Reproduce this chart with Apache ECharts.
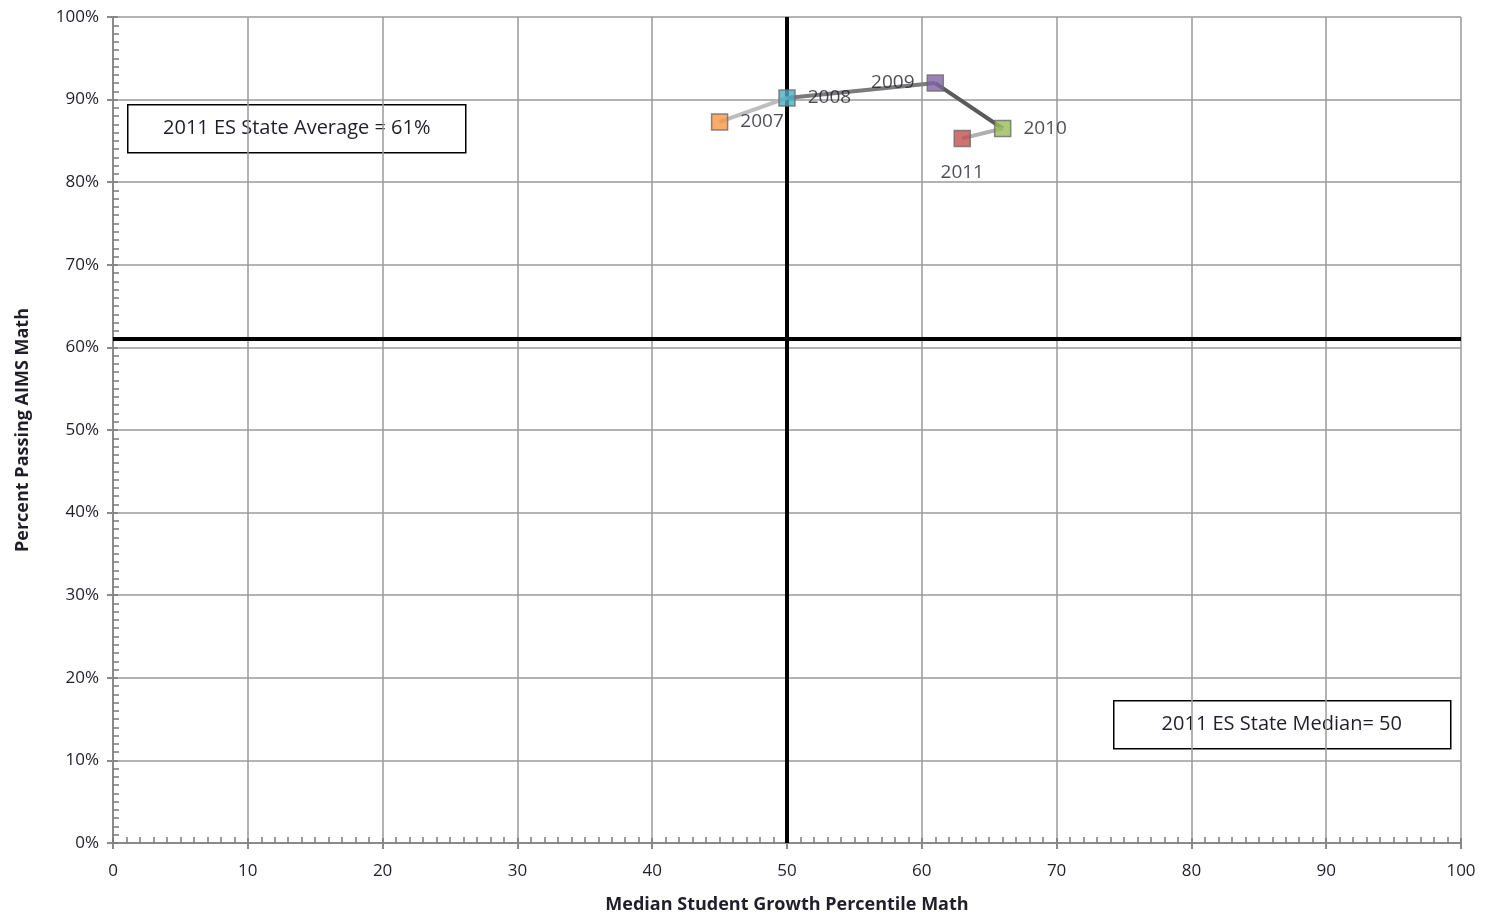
<!DOCTYPE html>
<html><head><meta charset="utf-8">
<script src="https://cdn.jsdelivr.net/npm/echarts@6/dist/echarts.min.js"></script>
<style>html,body{margin:0;padding:0;background:#fff}#c{width:1488px;height:916px}</style>
</head><body><div id="c"></div>
<script>
const years = ['2007','2008','2009','2010','2011'];
const growthPercentile = [45, 50, 61, 66, 63];
const percentPassing = [87.3, 90.2, 92.0, 86.5, 85.3];
const pointColors = ['#F79646','#4BACC6','#8064A2','#9BBB59','#C0504D'];
const segmentColors = ['#BDBDBD','#7A7A7A','#5A5A5A','#B0B0B0'];
const labelPositions = ['right','right','left','right','bottom'];
const stateAverage = 61;
const stateMedian = 50;
const xTicks = [0,10,20,30,40,50,60,70,80,90,100];

const font = 'Open Sans, Liberation Sans, sans-serif';
const textColor = '#1f1f2a';
const chart = echarts.init(document.getElementById('c'));

const series = [];
for (let i = 0; i < years.length - 1; i++) {
  series.push({
    type: 'line', silent: true, symbol: 'none', z: 2,
    data: [[growthPercentile[i], percentPassing[i]], [growthPercentile[i+1], percentPassing[i+1]]],
    lineStyle: { color: segmentColors[i], width: 4 }
  });
}
series.push({
  type: 'scatter', z: 5,
  symbol: 'rect', symbolSize: 16,
  data: years.map((y, i) => ({
    value: [growthPercentile[i], percentPassing[i]], name: y,
    itemStyle: { color: pointColors[i], borderColor: '#6a6a6a', borderWidth: 1.5 },
    label: { position: labelPositions[i], distance: labelPositions[i] === 'bottom' ? 16 : 12 }
  })),
  label: {
    show: true, formatter: p => p.name, color: textColor, fontFamily: font, fontSize: 19
  },
  markLine: {
    silent: true, symbol: 'none', z: 1,
    lineStyle: { color: '#000', width: 4, type: 'solid' },
    label: { show: false },
    data: [{ yAxis: stateAverage }, { xAxis: stateMedian }]
  }
});

const tickColor = '#8a8a8a';
const minorColor = '#7a7a7a';
chart.setOption({
  animation: false,
  grid: { left: 113, right: 27, top: 17, bottom: 73, outerBoundsMode: 'none', containLabel: false },
  xAxis: [{
    type: 'value', min: 0, max: 100, interval: 10,
    name: 'Median Student Growth Percentile Math', nameLocation: 'middle', nameGap: 53,
    nameTextStyle: { fontFamily: font, fontWeight: 'bold', fontSize: 18, color: textColor },
    axisLine: { show: true, lineStyle: { color: tickColor, width: 2 } },
    axisTick: { show: true, inside: false, length: 6, lineStyle: { color: tickColor, width: 2 } },
    splitLine: { show: true, lineStyle: { color: '#9a9a9a', width: 1.5 } },
    axisLabel: { fontFamily: font, fontSize: 17, color: textColor, margin: 20,
      formatter: v => xTicks.includes(v) ? String(v) : '' }
  }, {
    type: 'value', min: 0, max: 100, interval: 10, position: 'bottom',
    axisLine: { show: false }, axisLabel: { show: false }, splitLine: { show: false },
    axisTick: { show: true, inside: true, length: 5, lineStyle: { color: minorColor, width: 1.5 } },
    minorTick: { show: true, splitNumber: 10, length: 6, lineStyle: { color: minorColor, width: 1.5 } }
  }],
  yAxis: [{
    type: 'value', min: 0, max: 100, interval: 10,
    name: 'Percent Passing AIMS Math', nameLocation: 'middle', nameGap: 81,
    nameTextStyle: { fontFamily: font, fontWeight: 'bold', fontSize: 18, color: textColor },
    axisLine: { show: true, lineStyle: { color: tickColor, width: 2 } },
    axisTick: { show: true, inside: false, length: 6, lineStyle: { color: tickColor, width: 2 } },
    splitLine: { show: true, lineStyle: { color: '#9a9a9a', width: 1.5 } },
    axisLabel: { fontFamily: font, fontSize: 17, color: textColor, margin: 14, formatter: v => v + '%' }
  }, {
    type: 'value', min: 0, max: 100, interval: 10, position: 'left',
    axisLine: { show: false }, axisLabel: { show: false }, splitLine: { show: false },
    axisTick: { show: true, inside: true, length: 5, lineStyle: { color: minorColor, width: 1.5 } },
    minorTick: { show: true, splitNumber: 10, length: 6, lineStyle: { color: minorColor, width: 1.5 } }
  }],
  graphic: [
    { type: 'group', left: 127, top: 104, children: [
      { type: 'rect', shape: { x: 0, y: 0, width: 338, height: 48 },
        style: { fill: '#fff', stroke: '#000', lineWidth: 1.5 } },
      { type: 'text', x: 169, y: 24, style: { text: '2011 ES State Average = 61%', align: 'center', verticalAlign: 'middle',
        font: '20px ' + font, fill: textColor } }
    ]},
    { type: 'group', left: 1113, top: 700, children: [
      { type: 'rect', shape: { x: 0, y: 0, width: 337, height: 48 },
        style: { fill: '#fff', stroke: '#000', lineWidth: 1.5 } },
      { type: 'text', x: 168, y: 24, style: { text: '2011 ES State Median= 50', align: 'center', verticalAlign: 'middle',
        font: '20px ' + font, fill: textColor } }
    ]}
  ],
  series
});
</script></body></html>
